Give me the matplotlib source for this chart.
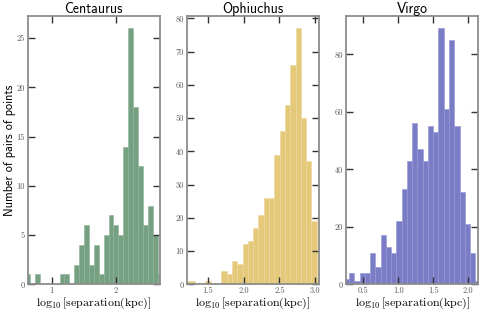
import numpy as np
import matplotlib
matplotlib.use("Agg")
import matplotlib.pyplot as plt
from matplotlib.ticker import MultipleLocator, StrMethodFormatter

plt.rcParams['mathtext.fontset'] = 'cm'

# histogram counts (pairs per bin)
cen_counts = [1, 0, 1, 0, 0, 0, 0, 1, 1, 0, 2, 4, 6, 2, 4, 1, 5, 7, 6, 5,
              14, 26, 18, 12, 6, 8, 5, 1]
oph_counts = [1, 1, 0, 0, 1, 0, 0, 4, 3, 7, 6, 12, 13, 17, 21, 26, 26, 39,
              46, 54, 66, 77, 50, 37, 19, 2]
vir_counts = [2, 4, 1, 4, 4, 11, 6, 17, 13, 11, 22, 33, 43, 56, 47, 43, 55,
              53, 89, 61, 85, 55, 32, 21, 11, 1]

# first bin edge and bin width in log10(kpc)
cen_bins = (0.589, 0.0762)
oph_bins = (1.168, 0.0742)
vir_bins = (0.224, 0.075)

cen_xlim = (0.627, 2.684)
oph_xlim = (1.205, 3.056)
vir_xlim = (0.255, 2.142)

names = ['Centaurus', 'Ophiuchus', 'Virgo']
colors = ['#76a082', '#e5c97a', '#7b7cc6']
edges_c = ['#8fb39a', '#eed79a', '#9596d3']

fig, axes = plt.subplots(1, 3, figsize=(4.82, 3.13), dpi=100)
fig.subplots_adjust(left=0.0575, right=0.9923, bottom=0.0917, top=0.95,
                    wspace=0.203)

panels = [(cen_counts, cen_bins, cen_xlim, 1, 5, '{x:.0f}'),
          (oph_counts, oph_bins, oph_xlim, 0.5, 10, '{x:.1f}'),
          (vir_counts, vir_bins, vir_xlim, 0.5, 20, '{x:.1f}')]

for i, ax in enumerate(axes):
    counts, (start, width), xlim, xstep, ystep, fmt = panels[i]
    edges = start + width * np.arange(len(counts) + 1)
    ax.hist(edges[:-1], bins=edges, weights=counts, color=colors[i],
            edgecolor=edges_c[i], linewidth=0.4)
    ax.set_xlim(xlim)
    ax.xaxis.set_major_locator(MultipleLocator(xstep))
    ax.yaxis.set_major_locator(MultipleLocator(ystep))
    ax.xaxis.set_major_formatter(StrMethodFormatter(fmt))
    ax.yaxis.set_major_formatter(StrMethodFormatter('{x:.0f}'))
    ax.tick_params(direction='in', top=True, right=True, length=5,
                   width=1, color='0.2', labelsize=6, labelcolor='0.35',
                   pad=2, labelfontfamily='cmr10')
    for s in ax.spines.values():
        s.set_color('0.55')
        s.set_linewidth(1.3)
    ax.set_title(names[i], fontsize=10, family='cmss10', pad=2)
    ax.set_xlabel(r'$\log_{10}[\mathrm{separation(kpc)}]$', fontsize=8.6,
                  labelpad=0)

axes[0].set_ylabel('Number of pairs of points', fontsize=8.8, family='cmss10',
                   labelpad=0)

plt.savefig('out.png')
